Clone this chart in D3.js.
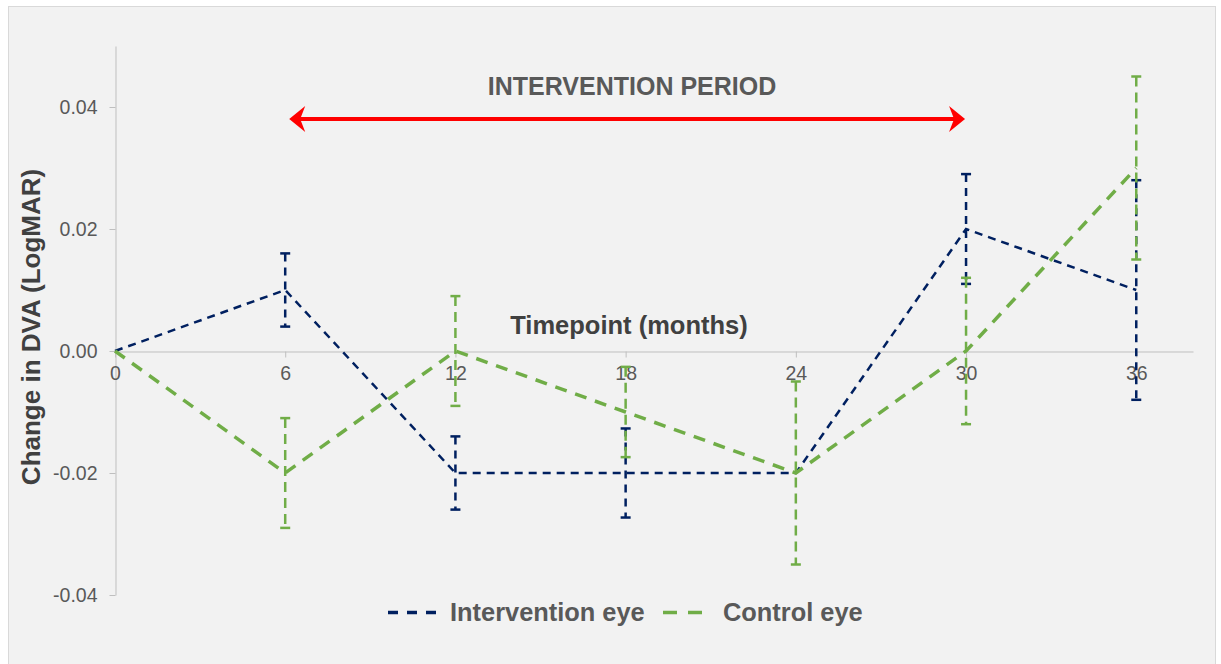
<!DOCTYPE html>
<html><head><meta charset="utf-8">
<script src="https://cdn.jsdelivr.net/npm/d3@7"></script>
<style>
html,body{margin:0;padding:0;background:#fff;}
svg text{font-family:"Liberation Sans",Arial,sans-serif;}
</style></head>
<body>
<svg id="c" width="1221" height="664"></svg>
<script>
const months = [0, 6, 12, 18, 24, 30, 36];
const interventionEye = [0, 0.01, -0.02, -0.02, -0.02, 0.02, 0.01];
const interventionErr = [0, 0.006, 0.006, 0.0073, 0, 0.009, 0.018];
const controlEye = [0, -0.02, 0, -0.01, -0.02, 0, 0.03];
const controlErr = [0, 0.009, 0.009, 0.0074, 0.015, 0.012, 0.015];
const yTicks = [-0.04, -0.02, 0, 0.02, 0.04];
const xTicks = [0, 6, 12, 18, 24, 30, 36];
const periodStart = 6, periodEnd = 30;

const svg = d3.select("#c");
svg.append("rect").attr("x",8.5).attr("y",6.5).attr("width",1207).attr("height",660)
  .attr("fill","#f2f2f2").attr("stroke","#d9d9d9").attr("stroke-width",1);

const x = d3.scaleLinear().domain([0,38]).range([115,1193]);
const y = d3.scaleLinear().domain([-0.04,0.05]).range([595,46]);
const fmt = d => d3.format(".2f")(d).replace("\u2212","-");

// y axis
const ya = svg.append("g").attr("transform","translate(115.5,0)")
  .call(d3.axisLeft(y).tickValues(yTicks).tickFormat(fmt).tickSize(6).tickSizeOuter(0));
ya.select(".domain").attr("stroke","#bfbfbf");
ya.selectAll(".tick line").attr("stroke","#bfbfbf");
ya.selectAll(".tick text").attr("fill","#595959").attr("font-size",19.5).attr("x",-18);

// x axis at y=0
const xa = svg.append("g").attr("transform",`translate(0,${Math.round(y(0))+0.5})`)
  .call(d3.axisBottom(x).tickValues(xTicks).tickSize(6).tickSizeOuter(0));
xa.select(".domain").attr("stroke","#bfbfbf");
xa.selectAll(".tick line").attr("stroke","#bfbfbf");
xa.selectAll(".tick text").attr("fill","#595959").attr("font-size",19.5).attr("y",15);

// axis titles
svg.append("text").attr("transform","translate(39.5,327) rotate(-90)").attr("text-anchor","middle")
  .attr("font-size",26).attr("font-weight","bold").attr("fill","#404040").text("Change in DVA (LogMAR)");
svg.append("text").attr("x",629).attr("y",334).attr("text-anchor","middle")
  .attr("font-size",25.5).attr("font-weight","bold").attr("fill","#404040").text("Timepoint (months)");

// intervention period annotation
svg.append("text").attr("x",632).attr("y",95).attr("text-anchor","middle")
  .attr("font-size",25).attr("font-weight","bold").attr("fill","#595959").text("INTERVENTION PERIOD");
const ay = 119, ax1 = x(periodStart)+4, ax2 = x(periodEnd)-1;
svg.append("line").attr("x1",ax1+10).attr("x2",ax2-10).attr("y1",ay).attr("y2",ay)
  .attr("stroke","#ff0000").attr("stroke-width",4);
svg.append("path").attr("d",`M${ax1},${ay} L${ax1+16},${ay-13} L${ax1+11},${ay} L${ax1+16},${ay+13} Z`).attr("fill","#ff0000");
svg.append("path").attr("d",`M${ax2},${ay} L${ax2-16},${ay-13} L${ax2-11},${ay} L${ax2-16},${ay+13} Z`).attr("fill","#ff0000");

const series = [
  {name:"Intervention eye", vals:interventionEye, err:interventionErr, color:"#002060", w:2.5, dash:"8,6", ew:2.5, edash:"8,6"},
  {name:"Control eye", vals:controlEye, err:controlErr, color:"#70ad47", w:3.5, dash:"12,9", ew:2.5, edash:"10,6"}
];
const line = d3.line().x((d,i)=>x(months[i])).y(d=>y(d));

series.forEach(s=>{
  const g = svg.append("g");
  months.forEach((m,i)=>{
    if(!s.err[i]) return;
    const cx = x(m), t = y(s.vals[i]+s.err[i]), b = y(s.vals[i]-s.err[i]);
    g.append("line").attr("x1",cx).attr("x2",cx).attr("y1",t).attr("y2",b)
      .attr("stroke",s.color).attr("stroke-width",s.ew).attr("stroke-dasharray",s.edash);
    [t,b].forEach(yy=>g.append("line").attr("x1",cx-5).attr("x2",cx+5).attr("y1",yy).attr("y2",yy)
      .attr("stroke",s.color).attr("stroke-width",2.5));
  });
  g.append("path").attr("d",line(s.vals)).attr("fill","none").attr("stroke",s.color)
    .attr("stroke-width",s.w).attr("stroke-dasharray",s.dash);
});

// legend
const lg = svg.append("g");
const ly = 612.5;
lg.append("line").attr("x1",388).attr("x2",437).attr("y1",ly).attr("y2",ly)
  .attr("stroke","#002060").attr("stroke-width",3.3).attr("stroke-dasharray","10,9");
lg.append("text").attr("x",450).attr("y",621).attr("font-size",25.4).attr("font-weight","bold")
  .attr("fill","#595959").text(series[0].name);
lg.append("line").attr("x1",663).attr("x2",703).attr("y1",ly).attr("y2",ly)
  .attr("stroke","#70ad47").attr("stroke-width",3.5).attr("stroke-dasharray","14,11");
lg.append("text").attr("x",723).attr("y",621).attr("font-size",25.4).attr("font-weight","bold")
  .attr("fill","#595959").text(series[1].name);
</script>
</body></html>
